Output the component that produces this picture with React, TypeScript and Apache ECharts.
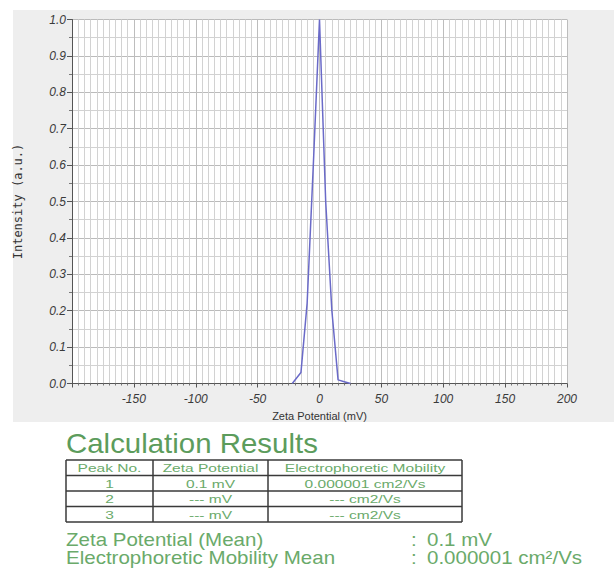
import React, { useEffect, useRef } from "react";
import * as echarts from "echarts";

// Distribution curve (Zeta Potential in mV vs normalized intensity)
const zetaPotential = [-22, -15, -10, -5, 0, 5, 10, 15, 20, 25];
const intensity = [0, 0.03, 0.22, 0.6, 1.0, 0.5, 0.2, 0.01, 0.005, 0];

// Axis settings
const xMin = -200;
const xMax = 200;
const xStep = 50;
const yMin = 0;
const yMax = 1;
const yStep = 0.1;

// Calculation results table
const tableTitle = "Calculation Results";
const tableHeader = ["Peak No.", "Zeta Potential", "Electrophoretic Mobility"];
const peakNos = ["1", "2", "3"];
const peakZeta = ["0.1 mV", "--- mV", "--- mV"];
const peakMobility = ["0.000001 cm2/Vs", "--- cm2/Vs", "--- cm2/Vs"];
const summaryLabels = ["Zeta Potential (Mean)", "Electrophoretic Mobility Mean"];
const summaryValues = ["0.1 mV", "0.000001 cm²/Vs"];

const FONT = "'Liberation Sans', Arial, sans-serif";

export default function App() {
  const ref = useRef<HTMLDivElement>(null);

  useEffect(() => {
    if (!ref.current) return;
    const chart = echarts.init(ref.current, null, { renderer: "svg" });

    const green = "#5c9c5c";
    const lightGreen = "#6aaa6a";
    const border = "#3a3a3a";

    const graphics: any[] = [];
    // gray panel behind the plot
    graphics.push({
      type: "rect",
      z: -100,
      silent: true,
      shape: { x: 13, y: 10, width: 601, height: 412 },
      style: { fill: "#eeeeee" },
    });

    // title
    graphics.push({
      type: "text",
      x: 66,
      y: 443,
      scaleX: 1.09,
      style: {
        text: tableTitle,
        fontSize: 27,
        fontFamily: FONT,
        fill: green,
        textVerticalAlign: "middle",
        textAlign: "left",
      },
    });

    // table geometry
    const colX = [66, 153, 268, 462];
    const rowH = 15.5;
    const tableTop = 460;
    const rows = [tableHeader, ...peakNos.map((p, i) => [p, peakZeta[i], peakMobility[i]])];
    const tableBottom = tableTop + rowH * rows.length;

    for (let r = 0; r <= rows.length; r++) {
      const y = tableTop + r * rowH;
      graphics.push({
        type: "line",
        shape: { x1: colX[0], y1: y, x2: colX[3], y2: y },
        style: { stroke: border, lineWidth: 1.5 },
      });
    }
    colX.forEach((x) => {
      graphics.push({
        type: "line",
        shape: { x1: x, y1: tableTop, x2: x, y2: tableBottom },
        style: { stroke: border, lineWidth: 1.5 },
      });
    });
    rows.forEach((row, r) => {
      row.forEach((cell, c) => {
        graphics.push({
          type: "text",
          x: (colX[c] + colX[c + 1]) / 2,
          y: tableTop + r * rowH + rowH / 2 + 0.5,
          scaleX: 1.35,
          style: {
            text: cell,
            fontSize: 11.5,
            fontFamily: FONT,
            fill: lightGreen,
            textAlign: "center",
            textVerticalAlign: "middle",
          },
        });
      });
    });

    // summary lines
    const summaryY = [540, 558];
    summaryLabels.forEach((label, i) => {
      const base = {
        fontSize: 18,
        fontFamily: FONT,
        fill: lightGreen,
        textAlign: "left",
        textVerticalAlign: "middle",
      };
      graphics.push({
        type: "text",
        x: 66,
        y: summaryY[i],
        scaleX: 1.14,
        style: { ...base, text: label },
      });
      graphics.push({
        type: "text",
        x: 411,
        y: summaryY[i],
        scaleX: 1.14,
        style: { ...base, text: ":" },
      });
      graphics.push({
        type: "text",
        x: 427,
        y: summaryY[i],
        scaleX: 1.14,
        style: { ...base, text: summaryValues[i] },
      });
    });

    chart.setOption({
      animation: false,
      backgroundColor: "#ffffff",
      grid: {
        left: 72,
        right: 47,
        top: 19.5,
        height: 364,
        show: true,
        backgroundColor: "#ffffff",
        borderWidth: 0,
        z: 0,
      },
      xAxis: {
        type: "value",
        min: xMin,
        max: xMax,
        interval: xStep,
        name: "Zeta Potential (mV)",
        nameLocation: "middle",
        nameGap: 27,
        nameTextStyle: { fontSize: 11, color: "#333", fontFamily: FONT },
        axisLine: { show: true, onZero: false, lineStyle: { color: "#555", width: 1 } },
        axisTick: { show: true, length: 4, lineStyle: { color: "#555" } },
        minorTick: { show: true, splitNumber: 10, length: 2, lineStyle: { color: "#777" } },
        axisLabel: {
          formatter: (v: number) => (v === xMin ? "" : String(v)),
          fontStyle: "italic",
          color: "#3a3a3a",
          fontSize: 12,
          fontFamily: FONT,
          margin: 9,
        },
        splitLine: { show: true, lineStyle: { color: "#bdbdbd", width: 1 } },
        minorSplitLine: { show: true, lineStyle: { color: "#d2d2d2", width: 1 } },
      },
      yAxis: {
        type: "value",
        min: yMin,
        max: yMax,
        interval: yStep,
        name: "Intensity (a.u.)",
        nameLocation: "middle",
        nameGap: 48,
        nameTextStyle: { fontSize: 12, color: "#333", fontFamily: "'DejaVu Sans Mono', monospace" },
        axisLine: { show: true, onZero: false, lineStyle: { color: "#555", width: 1 } },
        axisTick: { show: true, length: 5, lineStyle: { color: "#555" } },
        minorTick: { show: true, splitNumber: 2, length: 3, lineStyle: { color: "#777" } },
        axisLabel: {
          formatter: (v: number) => v.toFixed(1),
          fontStyle: "italic",
          color: "#3a3a3a",
          fontSize: 12,
          fontFamily: FONT,
          margin: 6,
        },
        splitLine: { show: true, lineStyle: { color: "#bbbbbb", width: 1 } },
        minorSplitLine: { show: true, lineStyle: { color: "#d2d2d2", width: 1 } },
      },
      series: [
        {
          type: "line",
          data: zetaPotential.map((x, i) => [x, intensity[i]]),
          showSymbol: false,
          lineStyle: { color: "#6a6ac8", width: 1.5 },
          itemStyle: { color: "#6a6ac8" },
          z: 5,
        },
      ],
      graphic: graphics,
    });

    return () => chart.dispose();
  }, []);

  return (
    <div
      ref={ref}
      style={{ position: "fixed", left: 0, top: 0, width: 614, height: 568 }}
    />
  );
}
